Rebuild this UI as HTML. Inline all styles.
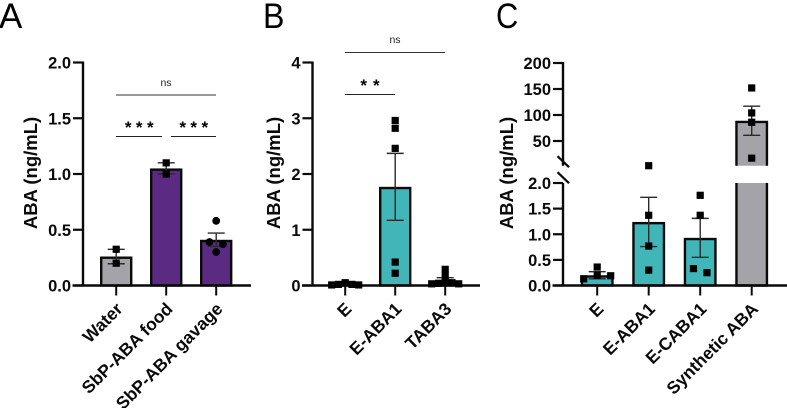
<!DOCTYPE html>
<html>
<head>
<meta charset="utf-8">
<style>
html,body{margin:0;padding:0;background:#fff;}
svg{display:block;font-family:"Liberation Sans",Arial,sans-serif;}
</style>
</head>
<body>
<svg id="figure" width="787" height="408" viewBox="0 0 787 408" xmlns="http://www.w3.org/2000/svg">
  <text x="-1" y="28" font-size="35">A</text>
  <text transform="translate(263,28) scale(0.92,1)" font-size="35">B</text>
  <text transform="translate(496,28) scale(0.88,1)" font-size="35">C</text>

  <g>
    <text x="166" y="86" font-size="10.5" text-anchor="middle" fill="#222">ns</text>
    <line x1="116" x2="216" y1="95" y2="95" stroke="#333" stroke-width="1"/>
    <text x="141.5" y="133" font-size="17" font-weight="bold" text-anchor="middle" letter-spacing="4.5">***</text>
    <line x1="116" x2="162" y1="136.5" y2="136.5" stroke="#222" stroke-width="1"/>
    <text x="196" y="133" font-size="17" font-weight="bold" text-anchor="middle" letter-spacing="4.5">***</text>
    <line x1="171" x2="216" y1="136.5" y2="136.5" stroke="#222" stroke-width="1"/>
  </g>
  <g>
    <text x="395" y="43" font-size="10.5" text-anchor="middle" fill="#222">ns</text>
    <line x1="345" x2="445" y1="52.5" y2="52.5" stroke="#333" stroke-width="1"/>
    <text x="373" y="91" font-size="17" font-weight="bold" text-anchor="middle" letter-spacing="6">**</text>
    <line x1="345" x2="395" y1="94.5" y2="94.5" stroke="#222" stroke-width="1"/>
  </g>
  <g id="plots"></g>
</svg>
<script>
// Panel A
const catsA = ["Water", "SbP-ABA food", "SbP-ABA gavage"];
const meansA = [0.26, 1.05, 0.41];
const errsA = [0.065, 0.05, 0.06];
const pointsA = [[0.325, 0.20], [1.10, 1.00], [0.58, 0.39, 0.37, 0.30]];
const ticksA = [0, 0.5, 1, 1.5, 2];
const tickTextA = ["0.0", "0.5", "1.0", "1.5", "2.0"];
const fillsA = ["#a3a3a8", "#5b2a82", "#5b2a82"];

// Panel B
const catsB = ["E", "E-ABA1", "TABA3"];
const meansB = [0.03, 1.77, 0.07];
const errsB = [0.01, 0.6, 0.07];
const pointsB = [[0.05, 0.02, 0.02, 0.01, 0.01], [2.96, 2.82, 2.46, 0.42, 0.22], [0.29, 0.17, 0.05, 0.05, 0.04, 0.03, 0.03]];
const ticksB = [0, 1, 2, 3, 4];
const tickTextB = ["0", "1", "2", "3", "4"];
const fillsB = ["#41b6b8", "#41b6b8", "#41b6b8"];

// Panel C (broken axis)
const catsC = ["E", "E-ABA1", "E-CABA1", "Synthetic ABA"];
const meansC = [0.2, 1.24, 0.93, 89];
const errsC = [0.07, 0.48, 0.38, 28];
const pointsC = [[0.36, 0.2, 0.19, 0.13], [2.5, 1.37, 0.77, 0.3], [1.76, 1.37, 0.33, 0.25], [152, 104, 86, 17]];
const ticksC = [0, 0.5, 1, 1.5, 2, 50, 100, 150, 200];
const tickTextC = ["0.0", "0.5", "1.0", "1.5", "2.0", "50", "100", "150", "200"];
const fillsC = ["#41b6b8", "#41b6b8", "#41b6b8", "#a3a3a8"];
const breakLow = 2;
const breakHigh = 2.5;
const domainTop = 200;

const NS = "http://www.w3.org/2000/svg";
const root = document.getElementById("plots");
const AXIS = "#0a0a0a";

function make(tag, parent, attrs) {
  const n = document.createElementNS(NS, tag);
  for (const k in attrs) n.setAttribute(k, attrs[k]);
  parent.appendChild(n);
  return n;
}

function scaleLinear(maxV, top, base) {
  return v => base - (v / maxV) * (base - top);
}

function scaleBroken(top, lowTop, highBottom, base) {
  return v => {
    if (v <= breakLow) return base - (v / breakLow) * (base - lowTop);
    if (v >= breakHigh) return highBottom - ((v - breakHigh) / (domainTop - breakHigh)) * (highBottom - top);
    return (lowTop + highBottom) / 2;
  };
}

// Beeswarm: values closer than one marker are spread sideways
function swarm(vals, y) {
  const sorted = vals.slice();
  const out = [];
  let group = [];
  const flush = () => {
    const n = group.length;
    const gap = n > 1 ? Math.min(13.5, 27 / (n - 1)) : 0;
    group.forEach((v, i) => {
      let slot;
      if (n % 2 === 1) slot = i === 0 ? 0 : (i % 2 === 1 ? (i + 1) / 2 : -i / 2);
      else slot = (i % 2 === 0 ? -(i + 1) / 2 : i / 2 + 0) ;
      out.push({ v: v, dx: slot * gap });
    });
    group = [];
  };
  sorted.forEach(v => {
    if (group.length && Math.abs(y(group[0]) - y(v)) >= 6.5) flush();
    group.push(v);
  });
  flush();
  return out;
}

function panel(cfg) {
  const g = make("g", root, {});
  
  
  const y = cfg.y;
  const base = y(0);

  // bars (border sits just inside the bar height)
  cfg.cats.forEach((c, i) => {
    const cx = cfg.x0 + i * cfg.step;
    const hw = cfg.barW / 2;
    const top = y(cfg.means[i]) + 1.2;
    if (cfg.breakY && cfg.means[i] > breakHigh) {
      const upper = make("path", g, { d: `M${cx - hw} ${cfg.breakY[0]}V${top}H${cx + hw}V${cfg.breakY[0]}`, fill: cfg.fills[i], stroke: AXIS, "stroke-width": 2.4 });
      
      
      const lower = make("path", g, { d: `M${cx - hw} ${cfg.breakY[1]}V${base}H${cx + hw}V${cfg.breakY[1]}`, fill: cfg.fills[i], stroke: AXIS, "stroke-width": 2.4 });
      
      
    } else {
      const bar = make("rect", g, { x: cx - hw, y: top, width: cfg.barW, height: Math.max(base - top, 0), fill: cfg.fills[i], stroke: AXIS, "stroke-width": 2.4 });
      
      
    }
  });

  // axes
  const yAxisPath = cfg.breakY
    ? `M${cfg.axisX} ${y(domainTop) - 1}V${cfg.breakY[0]}M${cfg.axisX} ${cfg.breakY[1]}V${base}`
    : `M${cfg.axisX} ${base}V${cfg.top - 1}`;
  const yAxis = make("path", g, { d: yAxisPath, stroke: AXIS, "stroke-width": 2.4, fill: "none" });
  
  
  const xAxis = make("line", g, { x1: cfg.axisX - 10.5, x2: cfg.axisEnd, y1: base, y2: base, stroke: AXIS, "stroke-width": 2.4 });
  
  

  if (cfg.breakY) {
    [-5.5, 10.5].forEach(off => {
      const mid = cfg.breakY[0] + off + 1.5;
      const mark = make("line", g, { x1: cfg.axisX - 5.5, x2: cfg.axisX + 6, y1: mid - 5.5, y2: mid + 5.5, stroke: AXIS, "stroke-width": 2.2 });
      
      
    });
  }

  // y ticks
  cfg.ticks.forEach((t, i) => {
    const ty = y(t);
    const tick = make("line", g, { x1: cfg.axisX - 10, x2: cfg.axisX, y1: ty, y2: ty, stroke: AXIS, "stroke-width": 2.2 });
    
    
    const label = make("text", g, { x: cfg.axisX - 12, y: ty + 6, "font-size": 16.5, "font-weight": "bold", "text-anchor": "end", fill: "#0a0a0a" });
    label.textContent = cfg.tickText[i];
    
    
  });

  // y title
  const title = make("text", g, { transform: `translate(${cfg.titleX},${cfg.titleY}) rotate(-90)`, "font-size": 18.5, "font-weight": "bold", "text-anchor": "middle", fill: "#0a0a0a" });
  title.textContent = "ABA (ng/mL)";
  
  

  // x ticks, labels, error bars, points
  cfg.cats.forEach((c, i) => {
    const cx = cfg.x0 + i * cfg.step;
    const tick = make("line", g, { x1: cx, x2: cx, y1: base, y2: base + 10, stroke: AXIS, "stroke-width": 2 });
    
    

    const label = make("text", g, { transform: `translate(${cx + 7.5},${base + 24.5}) rotate(-45)`, "font-size": 17.5, "font-weight": "bold", "text-anchor": "end", fill: "#0a0a0a" });
    label.textContent = c;
    
    

    const hi = y(cfg.means[i] + cfg.errs[i]);
    const lo = y(Math.max(cfg.means[i] - cfg.errs[i], 0));
    const err = make("path", g, { d: `M${cx} ${hi}V${lo}M${cx - 8.5} ${hi}H${cx + 8.5}M${cx - 8.5} ${lo}H${cx + 8.5}`, stroke: "#2a2a2a", "stroke-width": 1.4, fill: "none" });
    
    

    swarm(cfg.points[i], y).forEach(p => {
      const px = cx + p.dx;
      const py = y(p.v);
      let mark;
      if (cfg.circleIndex === i) {
        mark = make("circle", g, { cx: px, cy: py, r: 3.9, fill: "#000" });
      } else {
        mark = make("rect", g, { x: px - 3.6, y: py - 3.6, width: 7.2, height: 7.2, fill: "#000" });
      }
      
      
    });
  });
}

panel({
  name: "panel-a-chart", cats: catsA, means: meansA, errs: errsA, points: pointsA,
  ticks: ticksA, tickText: tickTextA, fills: fillsA, circleIndex: 2,
  y: scaleLinear(2, 62.5, 285.5), top: 62.5, axisX: 83, axisEnd: 251,
  x0: 116.2, step: 50, barW: 30, titleX: 37, titleY: 173
});
panel({
  name: "panel-b-chart", cats: catsB, means: meansB, errs: errsB, points: pointsB,
  ticks: ticksB, tickText: tickTextB, fills: fillsB, circleIndex: -1,
  y: scaleLinear(4, 62.5, 285.5), top: 62.5, axisX: 312.5, axisEnd: 480,
  x0: 345.2, step: 50, barW: 30, titleX: 280, titleY: 173
});
panel({
  name: "panel-c-chart", cats: catsC, means: meansC, errs: errsC, points: pointsC,
  ticks: ticksC, tickText: tickTextC, fills: fillsC, circleIndex: -1,
  y: scaleBroken(63, 183, 165.7, 285.5), top: 63, axisX: 563, axisEnd: 787,
  x0: 597.2, step: 51.5, barW: 30.5, titleX: 513, titleY: 173, breakY: [165.7, 183]
});
</script>
</body>
</html>
